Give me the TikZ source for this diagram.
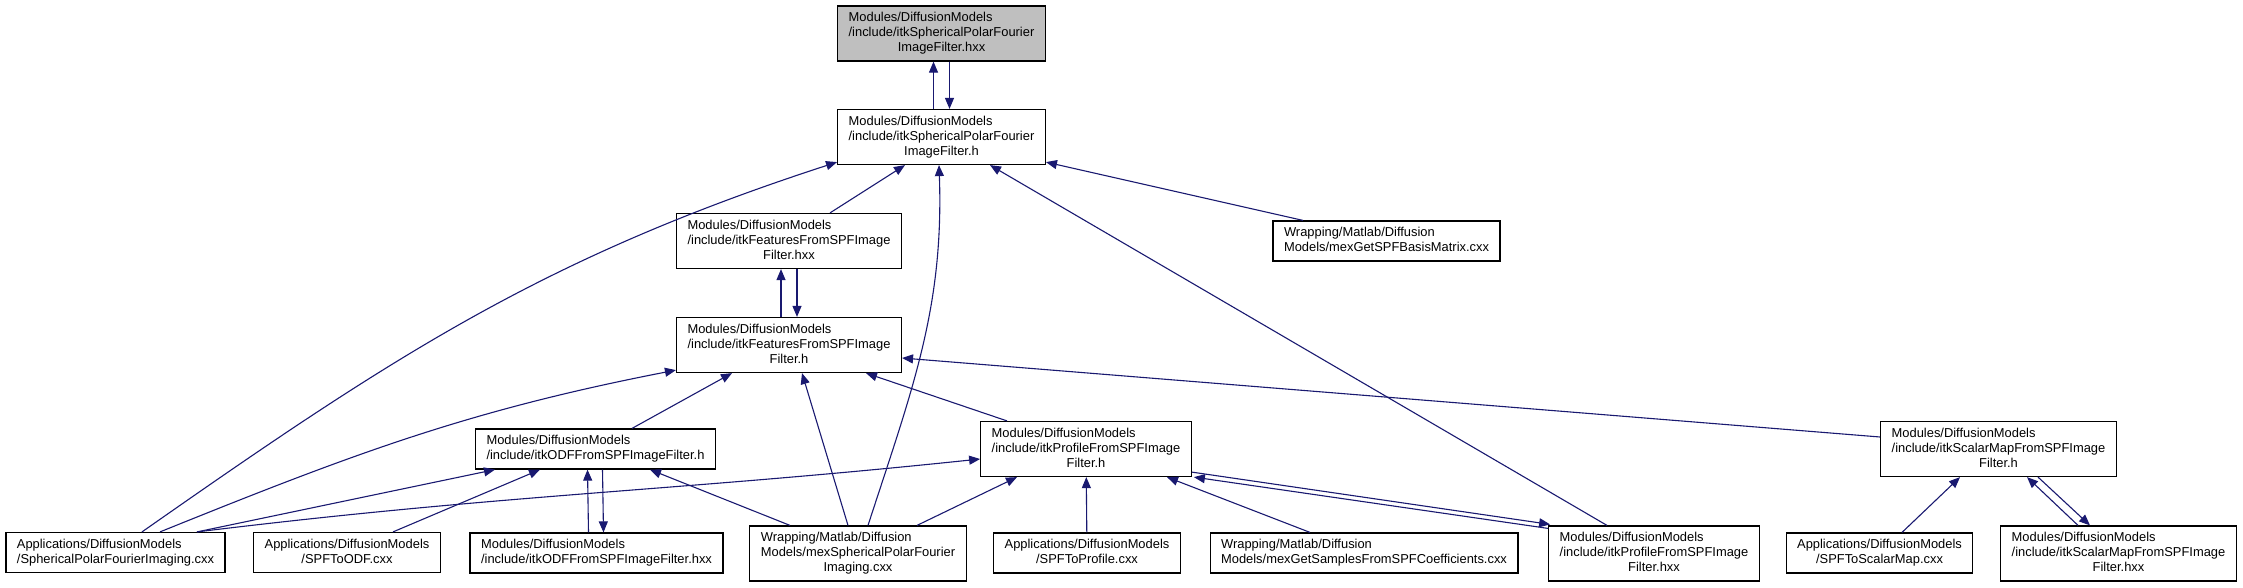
\documentclass[tikz,border=0pt]{standalone}
\usepackage{fontspec}
\setmainfont{Liberation Sans}
\usetikzlibrary{arrows.meta}
\definecolor{edgeblue}{HTML}{191970}
\newcommand{\flab}[2]{\begin{tabular}{@{}l@{}}#1\\\multicolumn{1}{@{}c@{}}{#2}\end{tabular}}

\begin{document}
\begin{tikzpicture}[x=1pt, y=1pt, every node/.style={rectangle, draw=black, line width=1.2pt, fill=white, inner xsep=11pt, inner ysep=5pt, font=\fontsize{12.9}{15}\selectfont}, inc/.style={->, draw=edgeblue, line width=1.1pt}, >={Triangle[length=11pt, width=9pt]}]
        \useasboundingbox (0,0) rectangle (2243,-587);
        \node[fill=black!25] (1) at (941.5,-33.5) {\flab{Modules/DiffusionModels\\/include/itkSphericalPolarFourier}{ImageFilter.hxx}};
        \node (2) at (941.5,-137) {\flab{Modules/DiffusionModels\\/include/itkSphericalPolarFourier}{ImageFilter.h}};
        \node (3) at (789,-241) {\flab{Modules/DiffusionModels\\/include/itkFeaturesFromSPFImage}{Filter.hxx}};
        \node (4) at (1386.5,-241) {\flab{Wrapping/Matlab/Diffusion}{Models/mexGetSPFBasisMatrix.cxx}};
        \node (5) at (789,-345) {\flab{Modules/DiffusionModels\\/include/itkFeaturesFromSPFImage}{Filter.h}};
        \node (6) at (595.5,-449) {\flab{Modules/DiffusionModels}{/include/itkODFFromSPFImageFilter.h}};
        \node (7) at (1086,-449) {\flab{Modules/DiffusionModels\\/include/itkProfileFromSPFImage}{Filter.h}};
        \node (8) at (1998.5,-449) {\flab{Modules/DiffusionModels\\/include/itkScalarMapFromSPFImage}{Filter.h}};
        \node (9) at (115.5,-552.5) {\flab{Applications/DiffusionModels}{/SphericalPolarFourierImaging.cxx}};
        \node (10) at (347,-552.5) {\flab{Applications/DiffusionModels}{/SPFToODF.cxx}};
        \node (11) at (596.5,-553) {\flab{Modules/DiffusionModels}{/include/itkODFFromSPFImageFilter.hxx}};
        \node (12) at (858,-553.5) {\flab{Wrapping/Matlab/Diffusion\\Models/mexSphericalPolarFourier}{Imaging.cxx}};
        \node (13) at (1087,-553) {\flab{Applications/DiffusionModels}{/SPFToProfile.cxx}};
        \node (14) at (1364,-553) {\flab{Wrapping/Matlab/Diffusion}{Models/mexGetSamplesFromSPFCoefficients.cxx}};
        \node (15) at (1654,-553.5) {\flab{Modules/DiffusionModels\\/include/itkProfileFromSPFImage}{Filter.hxx}};
        \node (16) at (1879.5,-553) {\flab{Applications/DiffusionModels}{/SPFToScalarMap.cxx}};
        \node (17) at (2118.5,-553.5) {\flab{Modules/DiffusionModels\\/include/itkScalarMapFromSPFImage}{Filter.hxx}};
        \draw[inc] ([xshift=-8pt]2.north) -- ([xshift=-8pt]1.south);
        \draw[inc] ([xshift=8pt]1.south) -- ([xshift=8pt]2.north);
        \draw[inc] ([xshift=26.5pt]9.north) to[out=35, in=198] ([yshift=3pt]2.south west);
        \draw[inc] ([xshift=41pt]3.north) -- ([xshift=-36.5pt]2.south);
        \draw[inc] ([xshift=10pt]12.north) to[out=72, in=-88] ([xshift=-2.5pt]2.south);
        \draw[inc] ([xshift=-47pt]15.north) -- ([xshift=48.5pt]2.south);
        \draw[inc] ([xshift=-83.5pt]4.north) -- ([yshift=3pt]2.south east);
        \draw[inc] ([xshift=-8pt]5.north) -- ([xshift=-8pt]3.south);
        \draw[inc] ([xshift=8pt]3.south) -- ([xshift=8pt]5.north);
        \draw[inc] ([xshift=44.5pt]9.north) to[out=22, in=191] ([yshift=3pt]5.south west);
        \draw[inc] ([xshift=36.5pt]6.north) -- ([xshift=-57pt]5.south);
        \draw[inc] ([xshift=-10pt]12.north) -- ([xshift=13pt]5.south);
        \draw[inc] ([xshift=-79pt]7.north) -- ([xshift=77pt]5.south);
        \draw[inc] ([yshift=12pt]8.west) -- ([yshift=-13pt]5.east);
        \draw[inc] ([xshift=81.5pt]9.north) -- ([xshift=-100.5pt]6.south);
        \draw[inc] ([xshift=46pt]10.north) -- ([xshift=-55.5pt]6.south);
        \draw[inc] ([xshift=-8pt]11.north) -- ([xshift=-8pt]6.south);
        \draw[inc] ([xshift=7pt]6.south) -- ([xshift=7pt]11.north);
        \draw[inc] ([xshift=-68pt]12.north) -- ([xshift=54.5pt]6.south);
        \draw[inc] ([xshift=81.5pt]9.north) to[out=7, in=186] ([yshift=-10pt]7.west);
        \draw[inc] ([xshift=59pt]12.north) -- ([xshift=-69pt]7.south);
        \draw[inc] (13) -- (7);
        \draw[inc] ([xshift=-54pt]14.north) -- ([xshift=81pt]7.south);
        \draw[inc] ([yshift=5pt]7.south east) -- ([xshift=2pt, yshift=1pt]15.north west);
        \draw[inc] ([yshift=-3pt]15.north west) -- ([xshift=2pt]7.south east);
        \draw[inc] ([xshift=22.5pt]16.north) -- ([xshift=-38.5pt]8.south);
        \draw[inc] ([xshift=-40.5pt]17.north) -- ([xshift=28.5pt]8.south);
        \draw[inc] ([xshift=39.5pt]8.south) -- ([xshift=-28.5pt]17.north);
    \end{tikzpicture}
\end{document}
